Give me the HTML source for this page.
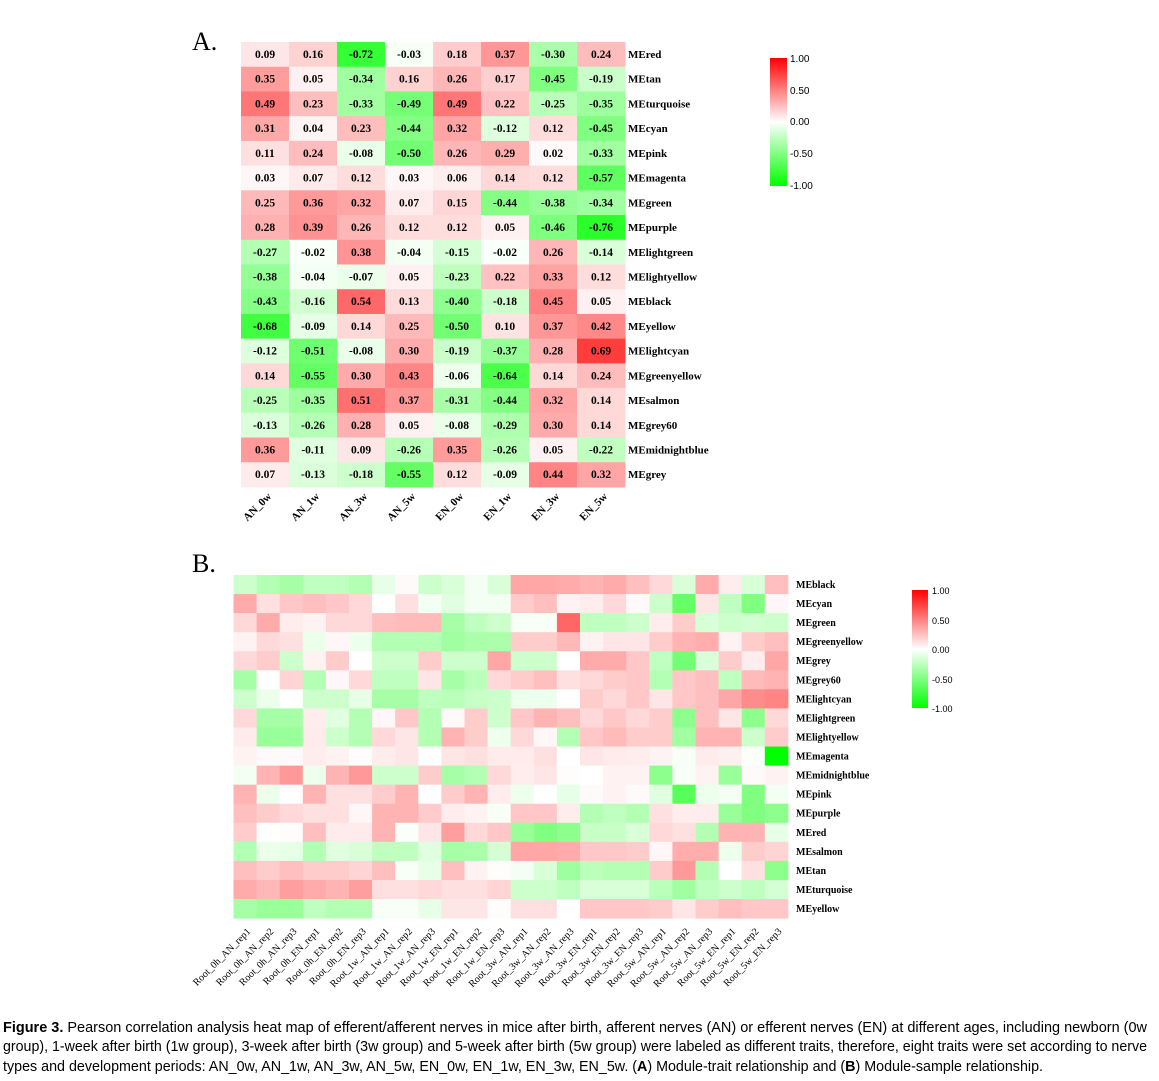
<!DOCTYPE html>
<html><head><meta charset="utf-8"><style>
html,body{margin:0;padding:0;background:#fff;}
svg{display:block;}
</style></head><body>
<svg id="s" width="1159" height="1081" xmlns="http://www.w3.org/2000/svg">
<defs>
<linearGradient id="cb" x1="0" y1="0" x2="0" y2="1">
<stop offset="0" stop-color="#ff0000"/><stop offset="0.5" stop-color="#ffffff"/><stop offset="1" stop-color="#00ff00"/>
</linearGradient>
</defs>
<text x="192" y="50" font-family="Liberation Serif, serif" font-size="26">A.</text>
<text x="192" y="572" font-family="Liberation Serif, serif" font-size="26">B.</text>
<g id="ga"></g><g id="gb"></g>
<rect x="770" y="58" width="17" height="128" fill="url(#cb)"/>
<g font-family="Liberation Sans, sans-serif" font-size="10">
<text x="790" y="62">1.00</text><text x="790" y="94">0.50</text><text x="790" y="125">0.00</text><text x="790" y="157">-0.50</text><text x="790" y="189">-1.00</text>
</g>
<rect x="912" y="590" width="16" height="118" fill="url(#cb)"/>
<g font-family="Liberation Sans, sans-serif" font-size="9">
<text x="932" y="594">1.00</text><text x="932" y="624">0.50</text><text x="932" y="653">0.00</text><text x="932" y="683">-0.50</text><text x="932" y="712">-1.00</text>
</g>
<g font-family="Liberation Sans, sans-serif" font-size="15">
<text x="3" y="1032" textLength="1144" lengthAdjust="spacingAndGlyphs"><tspan font-weight="bold">Figure 3.</tspan> Pearson correlation analysis heat map of efferent/afferent nerves in mice after birth, afferent nerves (AN) or efferent nerves (EN) at different ages, including newborn (0w</text>
<text x="3" y="1051" textLength="1144" lengthAdjust="spacingAndGlyphs">group), 1-week after birth (1w group), 3-week after birth (3w group) and 5-week after birth (5w group) were labeled as different traits, therefore, eight traits were set according to nerve</text>
<text x="3" y="1071" textLength="1040" lengthAdjust="spacingAndGlyphs">types and development periods: AN_0w, AN_1w, AN_3w, AN_5w, EN_0w, EN_1w, EN_3w, EN_5w. (<tspan font-weight="bold">A</tspan>) Module-trait relationship and (<tspan font-weight="bold">B</tspan>) Module-sample relationship.</text>
</g>
</svg>
<script>
var NS="http://www.w3.org/2000/svg";
function col(v){v=Math.max(-1,Math.min(1,v));var k=Math.round(255*(1-Math.abs(v)));
return v>=0?"rgb(255,"+k+","+k+")":"rgb("+k+",255,"+k+")";}
function el(p,n,a,t){var e=document.createElementNS(NS,n);for(var k in a)e.setAttribute(k,a[k]);if(t!=null)e.textContent=t;p.appendChild(e);return e;}
var A=[[0.09,0.16,-0.72,-0.03,0.18,0.37,-0.30,0.24],[0.35,0.05,-0.34,0.16,0.26,0.17,-0.45,-0.19],[0.49,0.23,-0.33,-0.49,0.49,0.22,-0.25,-0.35],[0.31,0.04,0.23,-0.44,0.32,-0.12,0.12,-0.45],[0.11,0.24,-0.08,-0.50,0.26,0.29,0.02,-0.33],[0.03,0.07,0.12,0.03,0.06,0.14,0.12,-0.57],[0.25,0.36,0.32,0.07,0.15,-0.44,-0.38,-0.34],[0.28,0.39,0.26,0.12,0.12,0.05,-0.46,-0.76],[-0.27,-0.02,0.38,-0.04,-0.15,-0.02,0.26,-0.14],[-0.38,-0.04,-0.07,0.05,-0.23,0.22,0.33,0.12],[-0.43,-0.16,0.54,0.13,-0.40,-0.18,0.45,0.05],[-0.68,-0.09,0.14,0.25,-0.50,0.10,0.37,0.42],[-0.12,-0.51,-0.08,0.30,-0.19,-0.37,0.28,0.69],[0.14,-0.55,0.30,0.43,-0.06,-0.64,0.14,0.24],[-0.25,-0.35,0.51,0.37,-0.31,-0.44,0.32,0.14],[-0.13,-0.26,0.28,0.05,-0.08,-0.29,0.30,0.14],[0.36,-0.11,0.09,-0.26,0.35,-0.26,0.05,-0.22],[0.07,-0.13,-0.18,-0.55,0.12,-0.09,0.44,0.32]];
var AL=["MEred","MEtan","MEturquoise","MEcyan","MEpink","MEmagenta","MEgreen","MEpurple","MElightgreen","MElightyellow","MEblack","MEyellow","MElightcyan","MEgreenyellow","MEsalmon","MEgrey60","MEmidnightblue","MEgrey"];
var AX=["AN_0w","AN_1w","AN_3w","AN_5w","EN_0w","EN_1w","EN_3w","EN_5w"];
var ga=document.getElementById("ga");
var ax0=241,aw=48,ay0=42,ah=24.72;
A.forEach(function(r,i){r.forEach(function(v,j){
el(ga,"rect",{x:ax0+j*aw,y:ay0+i*ah,width:aw+0.5,height:ah+0.5,fill:col(v*1.1)});
el(ga,"text",{x:ax0+j*aw+aw/2,y:ay0+i*ah+16,"text-anchor":"middle","font-family":"Liberation Serif, serif","font-size":"11.5","font-weight":"bold"},v.toFixed(2));
});
el(ga,"text",{x:628,y:ay0+i*ah+16,"font-family":"Liberation Serif, serif","font-size":"11","font-weight":"bold"},AL[i]);
});
AX.forEach(function(t,j){var x=ax0+j*aw+aw/2+7,y=497;
el(ga,"text",{x:x,y:y,"text-anchor":"end",transform:"rotate(-45 "+x+" "+y+")","font-family":"Liberation Serif, serif","font-size":"11","font-weight":"bold"},t);});
var B=[
[-0.2,-0.3,-0.35,-0.25,-0.25,-0.3,-0.1,0.02,-0.2,-0.15,-0.05,-0.15,0.35,0.35,0.33,0.3,0.33,0.25,0.15,-0.15,0.33,0.07,-0.15,0.25],
[0.33,0.12,0.22,0.25,0.22,0.15,0.0,0.12,-0.05,-0.12,-0.05,-0.05,0.2,0.25,0.05,0.07,0.15,0.02,-0.2,-0.6,0.1,-0.25,-0.5,0.03],
[0.15,0.33,0.07,0.05,0.15,0.15,0.25,0.27,0.27,-0.35,-0.25,-0.2,-0.03,-0.03,0.6,-0.25,-0.25,-0.2,0.07,0.2,-0.15,-0.2,-0.18,-0.2],
[0.05,0.15,0.12,-0.08,0.03,-0.07,-0.3,-0.3,-0.3,-0.37,-0.33,-0.33,0.2,0.2,0.28,0.05,0.1,0.1,0.2,0.3,0.32,0.05,0.2,0.25],
[0.15,0.2,-0.2,0.05,0.2,0.0,-0.2,-0.2,0.2,-0.2,-0.2,0.35,-0.2,-0.2,0.0,0.33,0.33,0.22,-0.25,-0.55,-0.15,0.2,0.07,0.35],
[-0.35,0.0,0.17,-0.3,0.03,0.15,-0.25,-0.25,0.1,-0.35,-0.27,0.15,0.2,0.25,0.12,0.15,0.2,0.22,-0.3,0.22,0.25,-0.25,0.27,0.3],
[-0.2,-0.08,0.0,-0.2,-0.2,-0.1,-0.35,-0.35,-0.25,-0.27,-0.22,-0.2,-0.07,-0.07,0.0,0.2,0.15,0.22,0.1,0.22,0.25,0.35,0.45,0.48],
[0.15,-0.35,-0.35,0.07,-0.12,-0.3,0.03,0.22,-0.3,0.02,0.2,-0.2,0.22,0.3,0.25,0.15,0.22,0.15,0.2,-0.45,0.25,0.1,-0.45,0.15],
[0.08,-0.4,-0.4,0.08,-0.2,-0.3,0.15,0.1,-0.3,0.3,0.2,-0.07,0.15,0.03,-0.3,0.22,0.27,0.2,0.2,-0.37,0.3,0.3,-0.2,0.2],
[0.05,0.02,0.02,0.07,0.05,0.01,0.07,0.1,0.0,0.1,0.12,0.08,0.08,0.12,0.0,0.1,0.08,0.07,0.05,-0.03,0.08,0.06,-0.02,-1.0],
[-0.05,0.3,0.4,-0.07,0.3,0.4,-0.2,-0.2,0.2,-0.35,-0.3,0.15,0.07,0.1,0.01,0.0,0.05,0.05,-0.45,-0.03,0.05,-0.4,0.02,0.05],
[0.3,-0.08,0.0,0.3,0.12,0.12,0.2,0.3,0.0,0.2,0.3,0.07,-0.07,0.0,-0.1,0.02,0.05,0.02,-0.12,-0.65,-0.07,-0.05,-0.5,-0.05],
[0.25,0.2,0.15,0.12,0.12,0.03,0.3,0.3,0.2,0.07,0.05,-0.03,0.22,0.22,0.07,-0.3,-0.25,-0.3,0.12,0.07,0.07,-0.4,-0.5,-0.45],
[0.2,0.0,0.01,0.25,0.08,0.08,0.3,-0.02,0.1,0.38,0.15,0.22,-0.4,-0.5,-0.45,-0.22,-0.22,-0.15,0.15,0.12,-0.3,0.3,0.3,-0.1],
[-0.3,-0.08,-0.1,-0.3,-0.12,-0.15,-0.25,-0.25,-0.12,-0.35,-0.33,-0.17,0.35,0.35,0.33,0.22,0.22,0.2,0.03,0.32,0.32,-0.07,0.2,0.17],
[0.25,0.2,0.25,0.2,0.2,0.17,0.25,-0.03,-0.1,0.25,0.05,0.01,-0.05,-0.15,-0.38,-0.27,-0.3,-0.3,0.2,0.4,-0.3,0.0,0.12,-0.45],
[0.33,0.28,0.38,0.33,0.3,0.38,0.12,0.12,0.15,0.12,0.12,0.17,-0.2,-0.2,-0.25,-0.15,-0.15,-0.15,-0.27,-0.37,-0.25,-0.2,-0.25,-0.17],
[-0.35,-0.4,-0.4,-0.25,-0.3,-0.3,-0.03,-0.03,-0.1,0.1,0.1,0.01,0.12,0.12,0.0,0.22,0.22,0.22,0.2,0.1,0.2,0.25,0.22,0.22]];
var BL=["MEblack","MEcyan","MEgreen","MEgreenyellow","MEgrey","MEgrey60","MElightcyan","MElightgreen","MElightyellow","MEmagenta","MEmidnightblue","MEpink","MEpurple","MEred","MEsalmon","MEtan","MEturquoise","MEyellow"];
var gb=document.getElementById("gb");
var bx0=233.5,bw=23.1,by0=575,bh=19.06;
B.forEach(function(r,i){r.forEach(function(v,j){
el(gb,"rect",{x:bx0+j*bw,y:by0+i*bh,width:bw+0.5,height:bh+0.5,fill:col(v)});});
el(gb,"text",{x:796,y:by0+i*bh+13,"font-family":"Liberation Serif, serif","font-size":"10","font-weight":"bold"},BL[i]);});
var k=0;["0h","1w","3w","5w"].forEach(function(t){["AN","EN"].forEach(function(n){[1,2,3].forEach(function(r){
var x=bx0+k*bw+bw/2+6,y=932;
el(gb,"text",{x:x,y:y,"text-anchor":"end",transform:"rotate(-45 "+x+" "+y+")","font-family":"Liberation Serif, serif","font-size":"10"},"Root_"+t+"_"+n+"_rep"+r);k++;});});});
</script>
</body></html>
